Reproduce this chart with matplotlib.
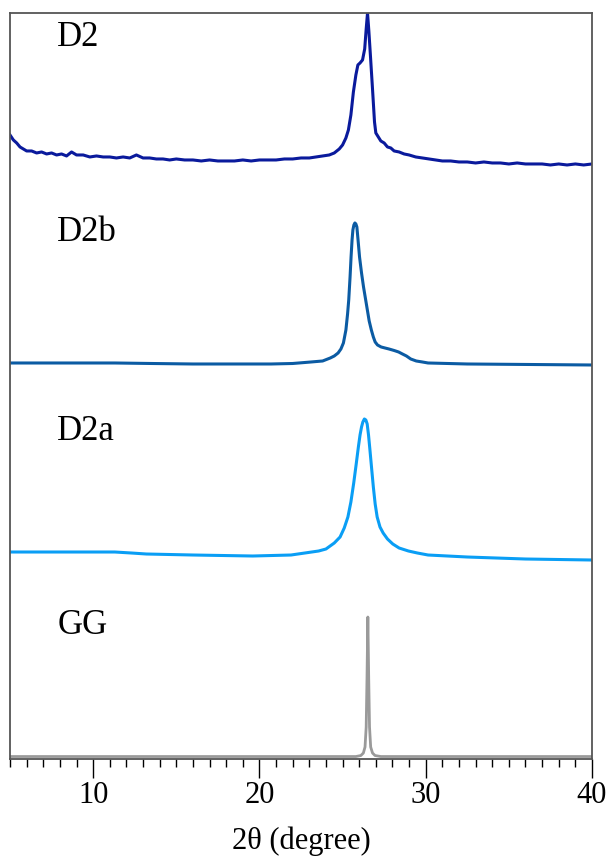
import matplotlib
matplotlib.use("Agg")
import matplotlib.pyplot as plt
from matplotlib.ticker import MultipleLocator

plt.rcParams['font.family'] = ['Liberation Serif', 'DejaVu Serif']

# stacked XRD patterns, intensity already offset (a.u.)
d2_x = [5.0, 5.2, 5.4, 5.6, 5.8, 6.0, 6.3, 6.6, 6.9, 7.2, 7.5, 7.8, 8.1, 8.4, 8.7,
        9.0, 9.4, 9.8, 10.2, 10.6, 11.0, 11.4, 11.8, 12.2, 12.6, 13.0, 13.4, 13.8,
        14.2, 14.6, 15.0, 15.5, 16.0, 16.5, 17.0, 17.5, 18.0, 18.5, 19.0, 19.5, 20.0,
        20.5, 21.0, 21.5, 22.0, 22.5, 23.0, 23.4, 23.8, 24.2, 24.5, 24.8, 25.0, 25.2,
        25.35, 25.5, 25.65, 25.8, 25.92, 26.05, 26.2, 26.33, 26.42, 26.5, 26.58, 26.68,
        26.8, 26.92, 27.0, 27.15, 27.3, 27.5, 27.7, 27.9, 28.1, 28.4, 28.7, 29.0, 29.4,
        29.8, 30.2, 30.6, 31.0, 31.5, 32.0, 32.5, 33.0, 33.5, 34.0, 34.5, 35.0, 35.5,
        36.0, 36.5, 37.0, 37.5, 38.0, 38.5, 39.0, 39.5, 40.0]
d2_y = [622, 617, 614, 610, 608, 606, 606, 604, 605, 603, 604, 602, 603, 601, 605,
        602, 602, 600, 601, 600, 600, 599, 600, 599, 602, 599, 599, 598,
        598, 597, 598, 597, 597, 596, 597, 596, 596, 596, 597, 596, 597,
        597, 597, 598, 598, 599, 599, 600, 601, 602, 604, 608, 612, 619,
        627, 642, 665, 682, 692, 694, 697, 708, 728, 744, 726, 700,
        668, 635, 624, 620, 616, 614, 610, 609, 606, 605, 603, 602, 600,
        599, 598, 597, 596, 596, 595, 595, 594, 595, 594, 594, 593, 594,
        593, 593, 593, 592, 593, 592, 593, 592, 593]

d2b_x = [5.0, 8.0, 11.3, 13.5, 16.0, 20.7, 22.0, 23.1, 23.8, 24.26, 24.5, 24.73, 24.9,
         25.05, 25.2, 25.3, 25.37, 25.45, 25.51, 25.57, 25.62, 25.68, 25.74, 25.8, 25.86,
         25.93, 26.02, 26.14, 26.26, 26.38, 26.49, 26.6, 26.73, 26.85, 26.96, 27.1, 27.32,
         27.55, 27.79, 28.1, 28.37, 28.6, 28.84, 29.1, 29.43, 29.8, 30.14, 32.5, 40.0]
d2b_y = [394, 394, 394, 393.5, 393, 393, 393.5, 395, 396, 399, 401, 404, 408,
         414, 427, 443, 457, 480, 500, 517, 527, 532, 534, 533, 530,
         517, 500, 484, 470, 458, 447, 436, 427, 420, 415, 412, 410,
         409, 408, 406.5, 405, 403, 401, 398, 396, 395, 394, 393, 392]

d2a_x = [5.0, 11.3, 12.3, 13.2, 16.0, 19.6, 21.9, 23.56, 24.0, 24.5, 24.85, 25.1, 25.32,
         25.5, 25.67, 25.82, 25.95, 26.05, 26.14, 26.22, 26.31, 26.4, 26.48, 26.56, 26.64,
         26.75, 26.85, 26.96, 27.08, 27.25, 27.44, 27.7, 28.02, 28.4, 28.96, 29.5, 30.14,
         32.5, 36.0, 40.0]
d2a_y = [205, 205, 204, 203, 202, 201, 202, 206, 208, 214, 220, 229, 240,
         255, 274, 293, 310, 322, 330, 335, 338, 337, 333, 322, 308,
         288, 270, 253, 240, 230, 224, 218, 213, 209, 206, 204, 202,
         200, 198, 197]

gg_x = [5.0, 25.8, 26.1, 26.25, 26.35, 26.42, 26.47, 26.52, 26.57, 26.62, 26.69,
        26.8, 26.95, 27.3, 40.0]
gg_y = [0.5, 0.5, 1.5, 4, 10, 30, 80, 140, 80, 30, 10, 4, 1.5, 0.5, 0.5]

labels = ['D2', 'D2b', 'D2a', 'GG']
label_y = [719, 524, 325, 132]

fig = plt.figure(figsize=(6.11, 8.64), dpi=100)
ax = fig.add_axes([0.0164, 0.1215, 0.9525, 0.8635])

ax.plot(d2_x, d2_y, color='#0A1A9C', lw=2.2)
ax.plot(d2b_x, d2b_y, color='#0B5BA3', lw=2.2)
ax.plot(d2a_x, d2a_y, color='#0A9EF5', lw=2.2)
ax.plot(gg_x, gg_y, color='#9A9A9A', lw=2.0)

for name, yy in zip(labels, label_y):
    ax.text(7.85, yy, name, fontsize=25, ha='left', va='center', color='black')

ax.set_xlim(5, 40)
ax.set_ylim(-2, 744)
ax.xaxis.set_major_locator(MultipleLocator(10))
ax.xaxis.set_minor_locator(MultipleLocator(1))
ax.tick_params(axis='x', which='major', direction='out', length=13.5, width=1.0,
               labelsize=22, pad=2, color='black')
ax.tick_params(axis='x', which='minor', direction='out', length=5.8, width=1.0,
               color='black')
ax.set_yticks([])
for s in ax.spines.values():
    s.set_color('#555555')
    s.set_linewidth(1.3)

ax.set_xlabel('2θ (degree)', fontsize=22, labelpad=12)

plt.savefig('out.png', dpi=100)
